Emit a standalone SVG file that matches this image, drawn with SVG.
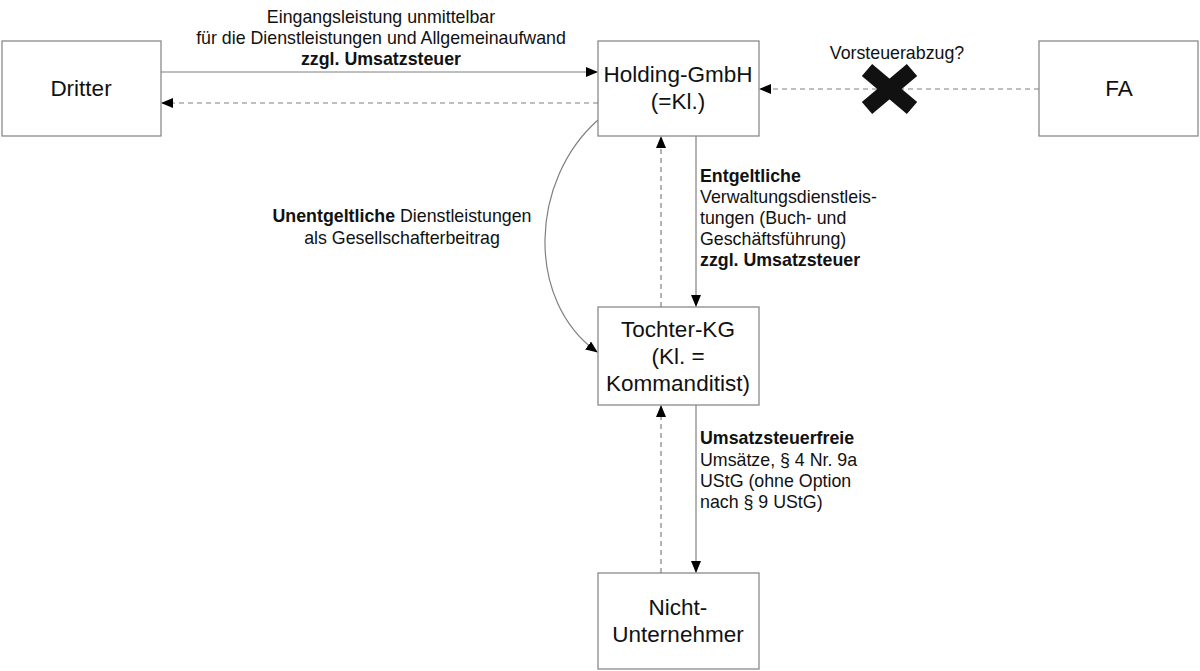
<svg xmlns="http://www.w3.org/2000/svg" width="1200" height="671" viewBox="0 0 1200 671">
<defs>
<marker id="ah" markerWidth="12" markerHeight="10" refX="11" refY="5" orient="auto" markerUnits="userSpaceOnUse">
<path d="M0,0 L12,5 L0,10 Z" fill="#000"/>
</marker>
<style>
.box{fill:#fff;stroke:#808080;stroke-width:1.2}
.nl{font-family:"Liberation Sans",Arial,sans-serif;font-size:22.5px;fill:#111;text-anchor:middle}
.t{font-family:"Liberation Sans",Arial,sans-serif;font-size:17.8px;fill:#111}
.c{text-anchor:middle}
.b{font-weight:bold}
.ln{fill:none;stroke:#808080;stroke-width:1.2}
.ds{stroke-dasharray:5,4}
</style>
</defs>
<rect width="1200" height="671" fill="#fff"/>
<g id="connectors">
<line class="ln" x1="161" y1="72" x2="597" y2="72" marker-end="url(#ah)"/>
<line class="ln ds" x1="598" y1="103" x2="162" y2="103" marker-end="url(#ah)"/>
<line class="ln ds" x1="1039" y1="89" x2="760" y2="89" marker-end="url(#ah)"/>
<line class="ln" x1="696" y1="136" x2="696" y2="306" marker-end="url(#ah)"/>
<line class="ln ds" x1="661" y1="307" x2="661" y2="137" marker-end="url(#ah)"/>
<line class="ln" x1="696" y1="405" x2="696" y2="572" marker-end="url(#ah)"/>
<line class="ln ds" x1="661" y1="573" x2="661" y2="406" marker-end="url(#ah)"/>
<path class="ln" d="M598,120 C530,180 525,300 597,352" marker-end="url(#ah)"/>
<g id="xmark" stroke="#111" stroke-width="16">
<line x1="867" y1="70" x2="912" y2="108"/>
<line x1="912" y1="70" x2="867" y2="108"/>
</g>
</g>
<g id="labels">
<text class="t c" x="381" y="23">Eingangsleistung unmittelbar</text>
<text class="t c" x="381" y="44">für die Dienstleistungen und Allgemeinaufwand</text>
<text class="t c b" x="381" y="65">zzgl. Umsatzsteuer</text>
<text class="t c" x="897" y="59">Vorsteuerabzug?</text>
<text class="t" x="700" y="182"><tspan class="b">Entgeltliche</tspan></text>
<text class="t" x="700" y="203">Verwaltungsdienstleis-</text>
<text class="t" x="700" y="224">tungen (Buch- und</text>
<text class="t" x="700" y="245">Geschäftsführung)</text>
<text class="t b" x="700" y="266">zzgl. Umsatzsteuer</text>
<text class="t c" x="402" y="222"><tspan class="b">Unentgeltliche</tspan> Dienstleistungen</text>
<text class="t c" x="402" y="244">als Gesellschafterbeitrag</text>
<text class="t b" x="700" y="444">Umsatzsteuerfreie</text>
<text class="t" x="700" y="466">Umsätze, § 4 Nr. 9a</text>
<text class="t" x="700" y="487">UStG (ohne Option</text>
<text class="t" x="700" y="508">nach § 9 UStG)</text>
</g>
<g id="dritter">
<rect class="box" x="2" y="41" width="159" height="95"/>
<text class="nl" x="81" y="96">Dritter</text>
</g>
<g id="holding">
<rect class="box" x="598" y="41" width="161" height="95"/>
<text class="nl" x="678" y="82">Holding-GmbH</text>
<text class="nl" x="678" y="109">(=Kl.)</text>
</g>
<g id="fa">
<rect class="box" x="1039" y="41" width="159" height="95"/>
<text class="nl" x="1119" y="96">FA</text>
</g>
<g id="tochter">
<rect class="box" x="598" y="307" width="161" height="98"/>
<text class="nl" x="678" y="337">Tochter-KG</text>
<text class="nl" x="678" y="364">(Kl. =</text>
<text class="nl" x="678" y="391">Kommanditist)</text>
</g>
<g id="nicht">
<rect class="box" x="598" y="573" width="161" height="96"/>
<text class="nl" x="678" y="615">Nicht-</text>
<text class="nl" x="678" y="642">Unternehmer</text>
</g>
</svg>
